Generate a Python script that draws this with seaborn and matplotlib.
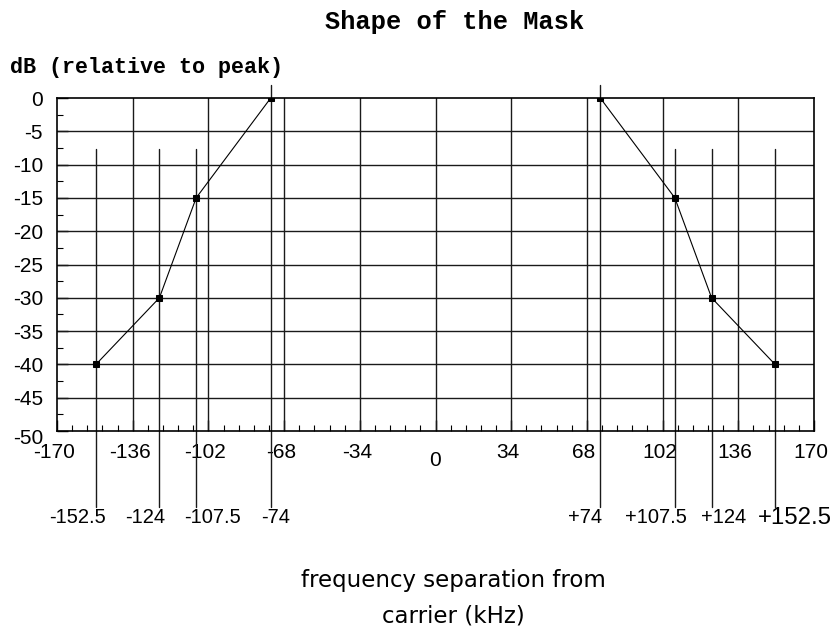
import matplotlib
matplotlib.use("Agg")
import matplotlib.pyplot as plt
import seaborn as sns
import pandas as pd
import numpy as np
from matplotlib.ticker import MultipleLocator
from matplotlib.transforms import ScaledTranslation

left_freq = [-152.5, -124, -107.5, -74]
left_db = [-40, -30, -15, 0]
right_freq = [74, 107.5, 124, 152.5]
right_db = [0, -15, -30, -40]
marker_labels = ["-152.5", "-124", "-107.5", "-74", "+74", "+107.5", "+124", "+152.5"]
x_ticks = [-170, -136, -102, -68, -34, 0, 34, 68, 102, 136, 170]
y_ticks = [0, -5, -10, -15, -20, -25, -30, -35, -40, -45, -50]

sns.set_theme(style="white")
plt.rcParams["font.family"] = ["Liberation Sans", "DejaVu Sans"]
plt.rcParams["text.color"] = "black"
plt.rcParams["xtick.color"] = "black"
plt.rcParams["ytick.color"] = "black"
plt.rcParams["xtick.labelcolor"] = "black"
plt.rcParams["ytick.labelcolor"] = "black"

df = pd.DataFrame({
    "freq": left_freq + right_freq,
    "db": left_db + right_db,
    "side": ["L"] * len(left_freq) + ["R"] * len(right_freq),
})

fig = plt.figure(figsize=(8.35, 6.35), dpi=100)
ax = fig.add_axes([57 / 835, 1 - 431 / 635, (814 - 57) / 835, (431 - 98) / 635])

# grid
for xv in x_ticks[1:-1]:
    ax.axvline(xv, color="#1a1a1a", lw=1.0, zorder=1)
for yv in y_ticks[1:-1]:
    ax.axhline(yv, color="#1a1a1a", lw=1.0, zorder=1)

sns.lineplot(data=df, x="freq", y="db", units="side", estimator=None,
             color="black", lw=0.8, marker="s", markersize=4.5,
             markeredgecolor="black", ax=ax, zorder=3)

ax.set_xlim(-170, 170)
ax.set_ylim(-50, 0)

# marker reference lines extending below the axis
all_freq = left_freq + right_freq
tops = [-7.7, -7.7, -7.7, 1.9, 1.9, -7.7, -7.7, -7.7]
for f, t in zip(all_freq, tops):
    ax.plot([f, f], [t, -61.4], color="#1a1a1a", lw=1.0, clip_on=False, zorder=2)

offsets_px = [-18, -14, 16, 5, -15, -19, 12, 20]
sizes = [14.5, 14.5, 14.5, 14.5, 14.5, 14.5, 14.5, 17.3]
for f, lab, off, s in zip(all_freq, marker_labels, offsets_px, sizes):
    ax.annotate(lab, xy=(f, -63.0), xytext=(off * 0.72, 0), textcoords="offset points",
                ha="center", va="center", fontsize=s, annotation_clip=False)

ax.set_xticks(x_ticks)
ax.set_xticklabels([str(v) for v in x_ticks])
ax.set_yticks(y_ticks)
ax.set_yticklabels([str(v) for v in y_ticks])
ax.xaxis.set_minor_locator(MultipleLocator(6.8))
ax.yaxis.set_minor_locator(MultipleLocator(2.5))
ax.tick_params(axis="x", which="minor", direction="in", length=4, width=0.8, bottom=True, top=False)
ax.tick_params(axis="y", which="minor", direction="in", length=4, width=0.8, left=True, right=False)
ax.tick_params(axis="x", which="major", length=8, width=1.0, direction="in", bottom=True,
               top=False, labelsize=15, pad=9)
ax.tick_params(axis="y", which="major", length=8, width=1.0, direction="in", left=True,
               right=False, labelsize=15, pad=10)

for lab in ax.get_xticklabels():
    if lab.get_text() == "0":
        lab.set_transform(lab.get_transform() + ScaledTranslation(0, -7 / 100, fig.dpi_scale_trans))
    else:
        lab.set_transform(lab.get_transform() + ScaledTranslation(-3 / 100, 0, fig.dpi_scale_trans))
for lab in ax.get_yticklabels():
    if lab.get_text() == "-50":
        lab.set_transform(lab.get_transform() + ScaledTranslation(0, -6 / 100, fig.dpi_scale_trans))

for sp in ax.spines.values():
    sp.set_color("black")
    sp.set_linewidth(1.2)

ax.set_xlabel("")
ax.set_ylabel("")

fig.text(455 / 835, 1 - 22 / 635, "Shape of the Mask", ha="center", va="center",
         fontsize=18.3, fontweight="bold", family=["Liberation Mono", "DejaVu Sans Mono"])
fig.text(10 / 835, 1 - 67 / 635, "dB (relative to peak)", ha="left", va="center",
         fontsize=15.7, fontweight="bold", family=["Liberation Mono", "DejaVu Sans Mono"])
fig.text(453 / 835, 1 - 581 / 635, "frequency separation from", ha="center", va="center",
         fontsize=16.5, family=["DejaVu Sans"])
fig.text(453 / 835, 1 - 616 / 635, "carrier (kHz)", ha="center", va="center",
         fontsize=16.5, family=["DejaVu Sans"])

fig.savefig("out.png", dpi=100)
